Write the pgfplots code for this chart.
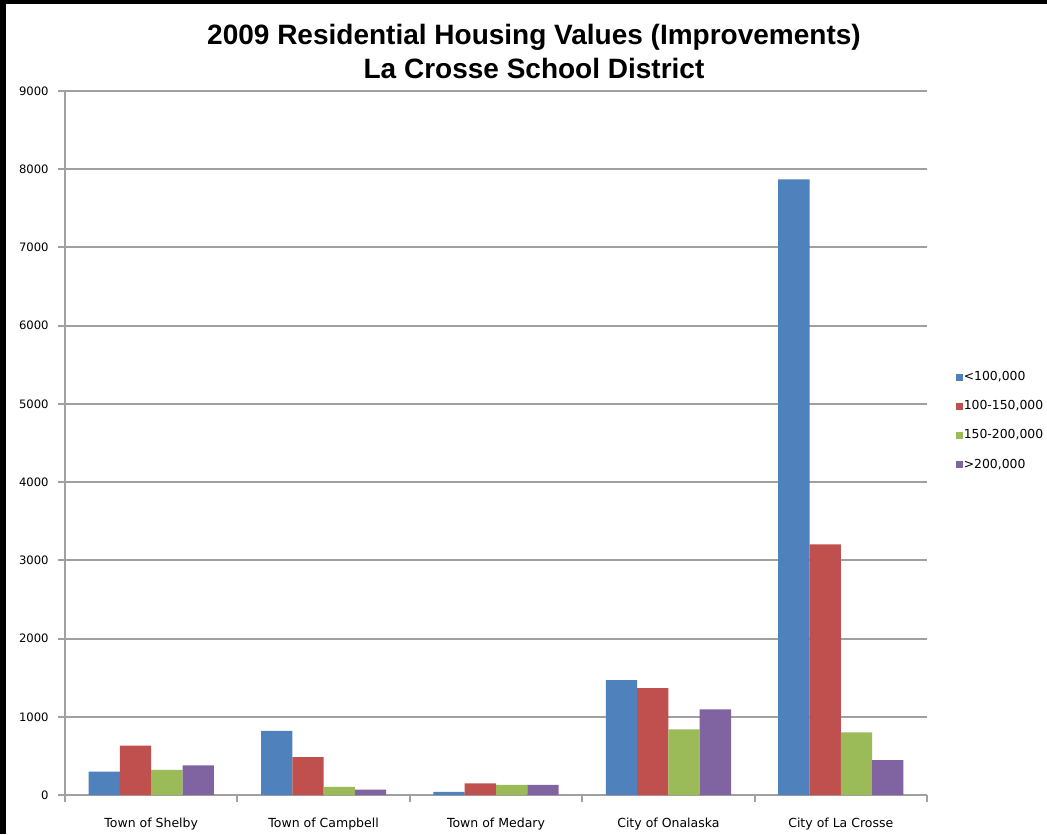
\documentclass[border=0pt]{standalone}
\usepackage{fontspec}
\setmainfont{Liberation Sans}
\newfontfamily\smallfont{DejaVu Sans}
\usepackage{pgfplots}
\pgfplotsset{compat=1.18}
\definecolor{xlblue}{HTML}{4F81BD}
\definecolor{xlred}{HTML}{C0504D}
\definecolor{xlgreen}{HTML}{9BBB59}
\definecolor{xlpurple}{HTML}{8064A2}
\definecolor{gridgray}{HTML}{A0A0A0}

\begin{document}
\begin{tikzpicture}
% canvas 1047 x 834 px, 1 px = 0.5pt
\path[use as bounding box, fill=white] (0pt,0pt) rectangle (523.5pt,417pt);
\fill[black] (0pt,415pt) rectangle (523.5pt,417pt);
\fill[black] (0pt,0pt) rectangle (3pt,417pt);
\node[anchor=base, font=\bfseries\fontsize{14}{16}\selectfont] at (267pt,394.5pt) {2009 Residential Housing Values (Improvements)};
\node[anchor=base, font=\bfseries\fontsize{14}{16}\selectfont] at (267pt,377.5pt) {La Crosse School District};
\begin{axis}[
    at={(32.5pt,19.5pt)}, anchor=south west,
    scale only axis, width=431pt, height=352pt,
    ybar=0pt, bar width=15.65pt,
    xmin=-0.5, xmax=4.5, ymin=0, ymax=9000,
    ytick={0,1000,...,9000},
    xtick={-0.5,0.5,...,4.5}, xticklabels={},
    extra x ticks={0,1,2,3,4},
    extra x tick labels={Town of Shelby,Town of Campbell,Town of Medary,City of Onalaska,City of La Crosse},
    extra x tick style={major tick length=0pt, xticklabel style={anchor=base, yshift=-16pt, font=\smallfont\fontsize{6.25}{7}\selectfont}},
    axis x line=bottom, axis y line=left,
    axis line style={-, draw=gridgray, line width=1pt},
    tick align=outside, major tick length=3.5pt,
    every tick/.style={draw=gridgray, line width=1pt},
    ymajorgrids, major grid style={draw=gridgray, line width=1pt},
    tick label style={font=\smallfont\fontsize{5.8}{7}\selectfont, text=black},
    yticklabel style={inner sep=0pt, xshift=-4.5pt},
    /pgf/number format/assume math mode=true,
    /pgf/number format/1000 sep={},
    legend image code/.code={\fill[#1] (0pt,-1.75pt) rectangle (3.5pt,1.75pt);},
    legend style={at={(1.026,0.531)}, anchor=west, draw=none, fill=none,
        font=\smallfont\fontsize{6.2}{7}\selectfont, row sep=7.5pt,
        nodes={inner sep=0.5pt}},
    legend cell align=left,
]
\addplot[fill=xlblue, draw=none] coordinates {(0,300) (1,820) (2,40) (3,1470) (4,7870)};
\addplot[fill=xlred, draw=none] coordinates {(0,630) (1,485) (2,150) (3,1365) (4,3205)};
\addplot[fill=xlgreen, draw=none] coordinates {(0,320) (1,105) (2,130) (3,840) (4,800)};
\addplot[fill=xlpurple, draw=none] coordinates {(0,380) (1,70) (2,130) (3,1095) (4,445)};
\legend{<100{,}000,100-150{,}000,150-200{,}000,>200{,}000}
\end{axis}
\end{tikzpicture}
\end{document}
